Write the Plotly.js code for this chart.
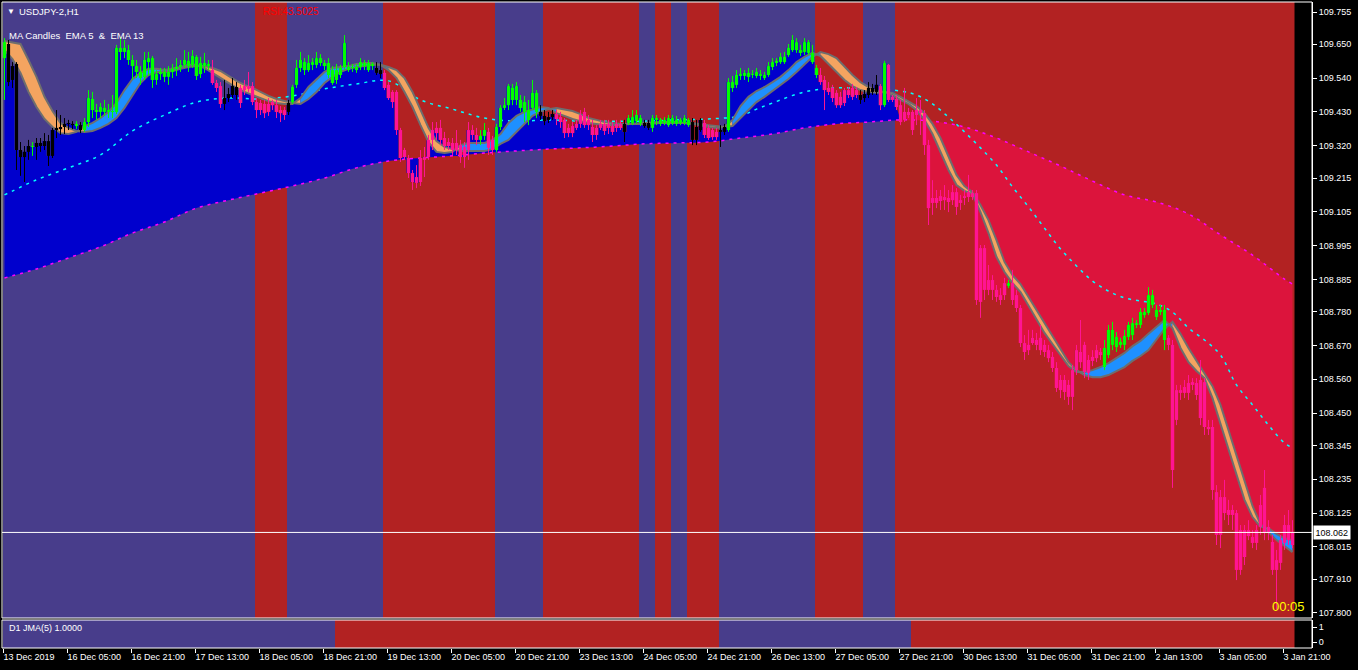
<!DOCTYPE html>
<html><head><meta charset="utf-8">
<script src="https://cdn.plot.ly/plotly-3.0.1.min.js"></script>
<style>html,body{margin:0;padding:0;background:#000;}#chart{width:1358px;height:670px;}</style>
</head><body><div id="chart"></div>
<script>
// ---------------- DATA (USDJPY-2, H1, 13 Dec 2019 13:00 .. 3 Jan 2020 23:00) ----------------
const opens = [109.605,109.651,109.534,109.586,109.306,109.283,109.300,109.319,109.316,109.329,
109.319,109.335,109.287,109.371,109.374,109.381,109.391,109.391,109.384,109.387,
109.371,109.397,109.472,109.436,109.430,109.443,109.430,109.433,109.430,109.638,
109.625,109.631,109.599,109.579,109.560,109.544,109.592,109.605,109.534,109.553,
109.560,109.544,109.560,109.570,109.576,109.583,109.596,109.583,109.609,109.553,
109.589,109.579,109.566,109.524,109.514,109.456,109.475,109.485,109.511,109.508,
109.501,109.514,109.514,109.462,109.459,109.456,109.456,109.462,109.452,109.436,
109.436,109.430,109.462,109.518,109.573,109.592,109.566,109.583,109.583,109.605,
109.589,109.589,109.566,109.534,109.550,109.576,109.576,109.573,109.566,109.576,
109.589,109.589,109.579,109.573,109.566,109.557,109.518,109.495,109.495,109.371,
109.306,109.280,109.231,109.218,109.202,109.274,109.283,109.339,109.378,109.378,
109.345,109.332,109.329,109.329,109.322,109.316,109.306,109.371,109.355,109.339,
109.352,109.365,109.339,109.306,109.381,109.443,109.452,109.508,109.469,109.469,
109.462,109.436,109.443,109.492,109.430,109.417,109.404,109.413,109.423,109.413,
109.404,109.378,109.384,109.378,109.391,109.430,109.404,109.381,109.378,109.378,
109.391,109.391,109.384,109.391,109.391,109.391,109.394,109.394,109.400,109.410,
109.394,109.394,109.378,109.404,109.391,109.394,109.387,109.394,109.391,109.394,
109.394,109.387,109.397,109.381,109.371,109.394,109.378,109.371,109.365,109.371,
109.365,109.371,109.527,109.518,109.547,109.547,109.557,109.550,109.547,109.547,
109.540,109.550,109.576,109.589,109.592,109.592,109.615,109.631,109.631,109.631,
109.625,109.622,109.622,109.573,109.550,109.534,109.508,109.508,109.492,109.479,
109.459,109.501,109.508,109.501,109.485,109.475,109.485,109.495,109.495,109.514,
109.452,109.583,109.479,109.472,109.452,109.430,109.430,109.430,109.436,109.436,
109.426,109.322,109.150,109.150,109.156,109.153,109.150,109.169,109.169,109.143,
109.150,109.169,109.166,109.166,108.987,108.987,108.883,108.883,108.851,108.834,
108.873,108.864,108.873,108.834,108.792,108.678,108.672,108.678,108.688,108.695,
108.672,108.655,108.633,108.597,108.558,108.558,108.542,108.503,108.590,108.649,
108.672,108.623,108.633,108.655,108.649,108.600,108.639,108.672,108.665,108.672,
108.672,108.698,108.704,108.737,108.737,108.769,108.776,108.802,108.763,108.779,
108.688,108.695,108.672,108.428,108.525,108.535,108.548,108.551,108.548,108.558,
108.551,108.405,108.405,108.193,108.177,108.177,108.135,108.135,108.125,108.070,
108.070,108.070,108.047,108.070,108.151,108.207,108.080,108.031,107.972,108.037,
108.086,108.086,108.021];

const highs = [109.670,109.664,109.592,109.592,109.332,109.319,109.339,109.332,109.345,109.345,
109.361,109.355,109.378,109.436,109.420,109.410,109.404,109.400,109.400,109.397,
109.410,109.501,109.495,109.456,109.459,109.469,109.456,109.485,109.648,109.674,
109.664,109.648,109.615,109.599,109.579,109.625,109.625,109.612,109.566,109.573,
109.573,109.579,109.586,109.605,109.599,109.631,109.625,109.631,109.615,109.609,
109.622,109.599,109.599,109.534,109.527,109.534,109.508,109.540,109.527,109.518,
109.534,109.560,109.527,109.475,109.469,109.469,109.475,109.469,109.469,109.449,
109.446,109.469,109.518,109.599,109.625,109.605,109.615,109.605,109.625,109.618,
109.599,109.605,109.579,109.586,109.583,109.680,109.592,109.586,109.586,109.605,
109.599,109.599,109.592,109.592,109.592,109.566,109.527,109.501,109.501,109.378,
109.313,109.290,109.241,109.257,109.306,109.316,109.355,109.397,109.397,109.404,
109.365,109.345,109.345,109.371,109.339,109.332,109.397,109.387,109.378,109.371,
109.394,109.378,109.352,109.391,109.452,109.475,109.521,109.521,109.527,109.485,
109.482,109.469,109.534,109.501,109.452,109.436,109.430,109.436,109.436,109.430,
109.410,109.391,109.397,109.404,109.436,109.443,109.420,109.404,109.387,109.404,
109.404,109.404,109.397,109.404,109.404,109.404,109.420,109.436,109.436,109.420,
109.404,109.404,109.420,109.420,109.410,109.413,109.420,109.420,109.417,109.410,
109.420,109.410,109.410,109.404,109.410,109.404,109.387,109.378,109.378,109.387,
109.391,109.540,109.547,109.566,109.573,109.566,109.573,109.566,109.573,109.566,
109.560,109.592,109.605,109.605,109.622,109.625,109.651,109.680,109.670,109.648,
109.670,109.664,109.648,109.583,109.573,109.547,109.527,109.518,109.501,109.495,
109.508,109.511,109.521,109.511,109.501,109.501,109.527,109.521,109.550,109.521,
109.596,109.586,109.485,109.485,109.469,109.508,109.443,109.436,109.475,109.469,
109.436,109.339,109.208,109.176,109.176,109.192,109.176,109.192,109.182,109.160,
109.176,109.225,109.176,109.176,108.997,108.997,108.932,108.899,108.867,108.857,
108.890,108.883,108.916,108.851,108.802,108.704,108.721,108.721,108.711,108.737,
108.688,108.672,108.649,108.616,108.574,108.574,108.558,108.607,108.672,108.753,
108.682,108.639,108.655,108.672,108.662,108.688,108.737,108.747,108.714,108.695,
108.721,108.747,108.760,108.753,108.792,108.792,108.860,108.851,108.802,108.802,
108.802,108.704,108.688,108.542,108.542,108.558,108.574,108.564,108.564,108.623,
108.564,108.428,108.428,108.216,108.200,108.233,108.168,108.151,108.135,108.086,
108.086,108.102,108.070,108.086,108.184,108.265,108.102,108.054,108.005,108.054,
108.119,108.135,108.102];

const lows = [109.469,109.514,109.508,109.241,109.222,109.202,109.274,109.287,109.274,109.300,
109.306,109.254,109.280,109.345,109.355,109.358,109.371,109.374,109.374,109.361,
109.365,109.381,109.410,109.404,109.410,109.417,109.410,109.410,109.423,109.599,
109.605,109.583,109.534,109.540,109.518,109.534,109.547,109.508,109.518,109.534,
109.527,109.518,109.540,109.547,109.560,109.573,109.560,109.573,109.534,109.540,
109.557,109.566,109.518,109.495,109.443,109.436,109.462,109.475,109.469,109.443,
109.485,109.495,109.452,109.410,109.420,109.410,109.417,109.436,109.410,109.397,
109.404,109.420,109.456,109.508,109.560,109.550,109.560,109.566,109.573,109.579,
109.566,109.540,109.518,109.521,109.540,109.566,109.560,109.560,109.557,109.566,
109.566,109.560,109.566,109.550,109.540,109.501,109.469,109.443,109.355,109.267,
109.274,109.215,109.176,109.182,109.189,109.218,109.274,109.306,109.339,109.322,
109.306,109.306,109.290,109.290,109.264,109.248,109.274,109.339,109.322,109.322,
109.339,109.290,109.290,109.300,109.371,109.436,109.436,109.452,109.452,109.430,
109.397,109.387,109.436,109.410,109.404,109.387,109.394,109.404,109.387,109.378,
109.345,109.348,109.348,109.371,109.378,109.378,109.371,109.332,109.339,109.371,
109.355,109.358,109.355,109.365,109.371,109.332,109.387,109.387,109.391,109.384,
109.378,109.371,109.365,109.387,109.384,109.387,109.381,109.387,109.384,109.387,
109.387,109.381,109.322,109.322,109.365,109.345,109.339,109.339,109.339,109.316,
109.355,109.365,109.495,109.508,109.534,109.534,109.527,109.540,109.540,109.534,
109.534,109.544,109.566,109.579,109.586,109.586,109.609,109.625,109.622,109.612,
109.615,109.615,109.586,109.540,109.518,109.436,109.485,109.462,109.443,109.443,
109.449,109.475,109.469,109.475,109.456,109.462,109.475,109.485,109.485,109.436,
109.446,109.462,109.462,109.436,109.387,109.397,109.410,109.355,109.387,109.355,
109.290,109.062,109.095,109.117,109.111,109.111,109.104,109.127,109.095,109.111,
109.127,109.137,109.143,108.802,108.760,108.818,108.834,108.818,108.812,108.802,
108.818,108.857,108.802,108.779,108.665,108.623,108.639,108.672,108.655,108.639,
108.633,108.616,108.584,108.519,108.499,108.493,108.477,108.460,108.574,108.597,
108.564,108.558,108.603,108.616,108.623,108.590,108.629,108.655,108.649,108.662,
108.655,108.688,108.688,108.727,108.727,108.760,108.769,108.792,108.753,108.769,
108.655,108.655,108.207,108.411,108.493,108.499,108.493,108.525,108.493,108.411,
108.379,108.379,108.168,108.021,108.011,108.102,108.086,108.070,107.907,107.924,
107.956,108.037,108.011,108.005,108.054,108.037,108.037,107.924,107.810,107.940,
108.005,108.021,108.011];

const closes = [109.657,109.527,109.579,109.306,109.283,109.300,109.319,109.316,109.329,109.319,
109.335,109.287,109.371,109.378,109.381,109.391,109.394,109.387,109.391,109.371,
109.397,109.475,109.436,109.430,109.446,109.430,109.436,109.430,109.638,109.625,
109.638,109.599,109.579,109.560,109.540,109.599,109.605,109.534,109.553,109.560,
109.544,109.560,109.570,109.576,109.583,109.599,109.579,109.612,109.547,109.589,
109.579,109.586,109.524,109.508,109.456,109.475,109.488,109.514,109.485,109.459,
109.514,109.505,109.462,109.436,109.436,109.426,109.430,109.452,109.430,109.426,
109.420,109.459,109.511,109.573,109.599,109.566,109.589,109.592,109.605,109.589,
109.579,109.550,109.524,109.566,109.573,109.654,109.566,109.576,109.576,109.592,
109.579,109.566,109.586,109.557,109.553,109.508,109.475,109.462,109.371,109.280,
109.283,109.231,109.202,109.199,109.280,109.283,109.339,109.371,109.361,109.339,
109.319,109.319,109.306,109.306,109.283,109.283,109.371,109.355,109.339,109.352,
109.371,109.313,109.306,109.381,109.443,109.452,109.514,109.469,109.514,109.443,
109.430,109.404,109.492,109.430,109.417,109.400,109.413,109.423,109.407,109.397,
109.361,109.361,109.361,109.391,109.420,109.387,109.387,109.355,109.355,109.391,
109.368,109.378,109.365,109.378,109.378,109.365,109.410,109.413,109.420,109.394,
109.384,109.378,109.410,109.410,109.404,109.404,109.410,109.410,109.404,109.404,
109.410,109.404,109.339,109.339,109.404,109.355,109.345,109.348,109.348,109.365,
109.381,109.527,109.508,109.550,109.553,109.557,109.544,109.553,109.560,109.553,
109.550,109.579,109.592,109.596,109.609,109.609,109.638,109.664,109.657,109.622,
109.657,109.657,109.592,109.550,109.527,109.501,109.495,109.475,109.452,109.452,
109.501,109.485,109.479,109.485,109.469,109.488,109.508,109.508,109.518,109.452,
109.589,109.469,109.469,109.446,109.397,109.404,109.420,109.371,109.420,109.426,
109.322,109.117,109.134,109.134,109.140,109.143,109.137,109.143,109.121,109.134,
109.156,109.153,109.153,108.818,108.812,108.851,108.851,108.851,108.828,108.818,
108.834,108.873,108.818,108.792,108.678,108.649,108.655,108.695,108.672,108.655,
108.649,108.629,108.597,108.532,108.525,108.519,108.503,108.590,108.655,108.616,
108.584,108.581,108.620,108.629,108.639,108.662,108.721,108.721,108.698,108.682,
108.701,108.737,108.743,108.743,108.779,108.779,108.834,108.834,108.786,108.786,
108.786,108.672,108.265,108.525,108.516,108.516,108.516,108.542,108.509,108.434,
108.405,108.398,108.200,108.054,108.054,108.125,108.119,108.119,107.940,107.940,
107.982,108.050,108.028,108.028,108.080,108.060,108.060,107.940,107.940,107.963,
108.028,108.037,108.062];

// MA Candles colour state per bar, run-length: g = up (lime), p = down (pink), k = neutral (black)
const colorRuns = [['g',1],['k',6],['g',1],['k',10],['g',1],['k',1],['g',32],['p',3],['k',4],['p',12],
['k',1],['g',21],['k',2],['p',24],['g',2],['p',2],['g',11],['k',4],['p',17],['k',1],['g',4],['k',2],
['g',10],['k',3],['p',4],['k',2],['g',23],['p',10],['k',5],['p',1],['g',1],['p',30],['g',1],['p',23],
['g',16],['p',32]];

// EMA 5 / EMA 13 ribbon (bar index, value)
const bandIdx = [0,2,4,6,8,10,12,14,16,18,20,22,24,26,28,30,32,34,36,38,40,42,44,46,48,50,52,54,56,58,
60,62,64,66,68,70,72,74,76,78,80,82,84,86,88,90,92,94,96,98,100,102,104,106,108,110,112,114,116,118,
120,122,124,126,128,130,132,134,136,138,140,142,144,146,148,150,152,154,156,160,164,168,172,176,178,180,
182,184,186,188,190,192,194,196,198,200,202,204,206,208,210,212,214,216,218,220,222,224,226,228,230,
232,234,236,238,240,242,244,246,248,250,252,254,256,258,260,262,264,266,268,270,272,274,276,278,280,
282,284,286,288,290,292,294,296,298,300,302,304,306,308,310,312,314,316,318,320,322];
const ema5 = [109.631,109.602,109.557,109.495,109.446,109.407,109.381,109.361,109.358,109.365,
109.384,109.394,109.410,109.430,109.459,109.501,109.537,109.557,109.570,109.570,
109.566,109.570,109.576,109.583,109.583,109.573,109.557,109.540,109.524,109.508,
109.495,109.485,109.475,109.465,109.459,109.456,109.456,109.475,109.511,109.537,
109.560,109.573,109.576,109.579,109.586,109.589,109.589,109.583,109.566,109.540,
109.495,109.446,109.387,109.332,109.300,109.296,109.300,109.322,109.329,109.329,
109.329,109.339,109.358,109.394,109.417,109.430,109.439,109.446,109.443,109.426,
109.417,109.407,109.400,109.394,109.391,109.387,109.387,109.387,
109.391,109.394,109.397,109.397,109.391,109.381,109.378,109.381,
109.404,109.449,109.479,109.498,109.511,109.527,109.544,109.566,109.592,109.609,
109.622,109.612,109.586,109.560,109.534,109.514,109.501,109.495,109.492,109.495,
109.485,109.469,109.456,109.436,109.404,109.358,109.300,109.241,109.192,109.173,
109.163,109.104,109.036,108.958,108.909,108.873,108.844,108.799,108.753,108.711,
108.675,108.639,108.603,108.584,108.584,108.590,108.600,108.613,108.629,108.646,
108.668,108.685,108.708,108.730,108.753,108.727,108.662,108.616,108.587,108.564,
108.499,108.415,108.330,108.246,108.168,108.112,108.080,108.076,108.057,108.043,108.037];
const ema13 = [109.661,109.657,109.651,109.599,109.544,109.479,109.433,109.394,109.378,109.368,
109.365,109.368,109.378,109.391,109.410,109.443,109.485,109.524,109.550,109.560,
109.560,109.563,109.570,109.576,109.579,109.579,109.573,109.563,109.547,109.531,
109.518,109.508,109.495,109.482,109.472,109.465,109.459,109.456,109.472,109.495,
109.524,109.544,109.560,109.570,109.576,109.579,109.583,109.583,109.576,109.566,
109.540,109.495,109.436,109.378,109.335,109.316,109.309,109.303,109.303,109.303,
109.303,109.309,109.326,109.339,109.365,109.394,109.417,109.430,109.439,109.443,
109.439,109.433,109.423,109.410,109.404,109.397,109.394,109.391,
109.391,109.391,109.394,109.394,109.394,109.387,109.384,109.381,
109.384,109.410,109.439,109.462,109.479,109.498,109.518,109.537,109.560,109.586,
109.609,109.625,109.618,109.605,109.576,109.550,109.527,109.511,109.498,109.495,
109.492,109.479,109.465,109.449,109.426,109.391,109.345,109.283,109.225,109.189,
109.169,109.127,109.078,109.013,108.942,108.899,108.870,108.828,108.786,108.747,
108.704,108.659,108.616,108.590,108.574,108.567,108.567,108.574,108.587,108.600,
108.620,108.636,108.655,108.688,108.724,108.747,108.708,108.662,108.620,108.581,
108.538,108.477,108.395,108.311,108.233,108.148,108.089,108.063,108.037,108.018,107.998];

// medium MA (cyan dotted) and slow MA (magenta dotted)
const maFastIdx = [0,8,16,24,32,40,48,56,64,72,80,88,96,104,112,120,128,136,144,152,160,168,176,184,188,
192,200,208,216,224,228,232,236,240,244,248,252,256,260,264,268,272,276,280,284,288,292,296,300,304,
308,312,316,320,322];
const maFast = [109.160,109.209,109.248,109.290,109.368,109.420,109.462,109.475,109.472,109.482,
109.505,109.521,109.531,109.469,109.439,109.410,109.400,109.404,109.400,109.400,109.400,109.404,
109.407,109.417,109.439,109.459,109.495,109.508,109.505,109.498,109.485,109.456,109.413,109.365,
109.313,109.257,109.186,109.121,109.052,108.984,108.929,108.880,108.847,108.825,108.815,108.805,
108.779,108.727,108.688,108.639,108.542,108.477,108.411,108.353,108.337];
const maSlowIdx = [0,8,16,24,32,40,48,56,64,72,80,88,96,104,112,120,128,136,144,152,160,168,176,184,
192,200,208,216,224,232,240,248,256,264,272,280,288,296,304,312,320,322];
const maSlow = [108.890,108.919,108.955,108.991,109.036,109.072,109.117,109.143,109.166,109.189,
109.215,109.248,109.270,109.280,109.287,109.296,109.303,109.309,109.313,109.319,109.326,109.329,
109.332,109.345,109.358,109.378,109.391,109.397,109.404,109.400,109.381,109.345,109.300,109.254,
109.205,109.160,109.137,109.098,109.030,108.964,108.886,108.870];

// H4 trend zones (first bar of each zone) and D1 JMA(5) zones
const h4Starts = [0,63,71,95,123,135,159,163,167,171,179,203,215,223];
const h4Trend  = ['up','down','up','down','up','down','up','down','up','down','up','down','up','down'];
const d1Starts = [0,83,179,227];
const d1Trend  = ['up','down','up','down'];

const tickLabels = ['13 Dec 2019','16 Dec 05:00','16 Dec 21:00','17 Dec 13:00','18 Dec 05:00','18 Dec 21:00',
'19 Dec 13:00','20 Dec 05:00','20 Dec 21:00','23 Dec 13:00','24 Dec 05:00','24 Dec 21:00','26 Dec 13:00',
'27 Dec 05:00','27 Dec 21:00','30 Dec 13:00','31 Dec 05:00','31 Dec 21:00','2 Jan 13:00','3 Jan 05:00','3 Jan 21:00'];
const barsPerLabel = 16;
const priceTicks = [109.755,109.650,109.540,109.430,109.320,109.215,109.105,108.995,108.885,108.780,
108.670,108.560,108.450,108.345,108.235,108.125,108.015,107.910,107.800];
const lastPrice = 108.062;
const rsiText = 'RSI:43.5025';
const jmaText = 'D1 JMA(5) 1.0000';
const timerText = '00:05';

// ---------------- STYLE ----------------
const PURPLE='#483D8B', RED='#B22222', FILL_UP='#0000CD', FILL_DN='#DC143C';
const BAND_UP='#1E90FF', BAND_DN='#F4A460', BAND_LINE='#6E6E6E';
const CANDLE={g:'#00FF00',p:'#FF1493',k:'#000000'};
const FONT='Liberation Sans, Arial, sans-serif';
const EDGE=0.375;   // bar body left edge offset (in bars)

const n = closes.length;
const barIdx = closes.map((_,i)=>i);
const barColor = [];
colorRuns.forEach(([c,len])=>{for(let j=0;j<len;j++) barColor.push(c);});

const base = {type:'scatter', mode:'lines', hoverinfo:'skip', showlegend:false};
const traces = [];

// histogram fill between slow MA and price
const split = h4Starts[h4Starts.length-1]+1;
const slowPairs = maSlowIdx.map((x,k)=>[x,maSlow[k]]);
const maL = slowPairs.filter(p=>p[0]<=split), maR = slowPairs.filter(p=>p[0]>=split);
traces.push({...base, x:maL.map(p=>p[0]), y:maL.map(p=>p[1]), line:{width:0,shape:'spline'}});
traces.push({...base, x:barIdx.slice(0,split), y:closes.slice(0,split), line:{width:0,shape:'hvh'}, fill:'tonexty', fillcolor:FILL_UP});
traces.push({...base, x:maR.map(p=>p[0]), y:maR.map(p=>p[1]), line:{width:0,shape:'spline'}});
traces.push({...base, x:barIdx.slice(split), y:closes.slice(split), line:{width:0,shape:'hvh'}, fill:'tonexty', fillcolor:FILL_DN});

// dotted MAs
traces.push({...base, x:maFastIdx, y:maFast, line:{color:'#00FFFF', width:1.5, dash:'3px,5px', shape:'spline'}});
traces.push({...base, x:maSlowIdx, y:maSlow, line:{color:'#FF00FF', width:1.5, dash:'3px,5px', shape:'spline'}});

// EMA ribbon fills by direction
const sgn=[]; 
for(let k=0;k<bandIdx.length;k++){const d=ema5[k]-ema13[k]; sgn.push(d>0?1:(d<0?-1:(k?sgn[k-1]:-1)));}
let s0=0;
for(let k=1;k<=bandIdx.length;k++){
  if(k===bandIdx.length || sgn[k]!==sgn[s0]){
    const e=Math.min(k,bandIdx.length-1);
    traces.push({...base, x:bandIdx.slice(s0,e+1), y:ema13.slice(s0,e+1), line:{width:0}});
    traces.push({...base, x:bandIdx.slice(s0,e+1), y:ema5.slice(s0,e+1), line:{width:0}, fill:'tonexty', fillcolor: sgn[s0]>0?BAND_UP:BAND_DN});
    s0=k;
  }
}
traces.push({...base, x:bandIdx, y:ema13, line:{color:BAND_LINE,width:2}});
traces.push({...base, x:bandIdx, y:ema5, line:{color:BAND_LINE,width:2}});

// candles
['k','g','p'].forEach(c=>{
  const wx=[],wy=[],bx=[],by=[];
  for(let i=0;i<n;i++){ if(barColor[i]!==c) continue;
    wx.push(i,i,null); wy.push(lows[i],highs[i],null);
    bx.push(i,i,null); by.push(opens[i],closes[i],null);
  }
  traces.push({...base, x:wx, y:wy, line:{color:CANDLE[c],width:1}});
  traces.push({...base, x:bx, y:by, line:{color:CANDLE[c],width:3.2}});
});

// indicator sub-window (D1 JMA zones are drawn as shapes on it)
traces.push({type:'scatter', mode:'lines', x:[], y:[], xaxis:'x', yaxis:'y2', hoverinfo:'skip', showlegend:false});

// ---------------- LAYOUT ----------------
const W=1358,Hh=670,ML=2,MR=46,MT=2,MB=22;
const PW=W-ML-MR, PH=Hh-MT-MB;
const mainBottom=30/PH, subTop=28/PH;
const X=px=>(px-ML)/PW, Y=py=>(Hh-MB-py)/PH;

function zoneShapes(starts,trend,yref){
  return starts.map((s,k)=>({type:'rect',xref:'x',yref:yref,x0:s-EDGE,
    x1:(k+1<starts.length?starts[k+1]-EDGE:n-1+0.5),y0:0,y1:1,
    fillcolor:trend[k]==='up'?PURPLE:RED,line:{width:0},layer:'below'}));
}
const shapes = [
  ...zoneShapes(h4Starts,h4Trend,'y domain'),
  ...zoneShapes(d1Starts,d1Trend,'y2 domain'),
  {type:'line',xref:'paper',yref:'y',x0:0,x1:1,y0:lastPrice,y1:lastPrice,line:{color:'#FFFFFF',width:1},layer:'above'},
  {type:'rect',xref:'paper',yref:'paper',x0:0,x1:1,y0:mainBottom,y1:1,line:{color:'#FFFFFF',width:1},layer:'above'},
  {type:'rect',xref:'paper',yref:'paper',x0:0,x1:1,y0:0,y1:subTop,line:{color:'#FFFFFF',width:1},layer:'above'}
];
function txt(text,px,py,opt){return Object.assign({xref:'paper',yref:'paper',x:X(px),y:Y(py),xanchor:'left',yanchor:'middle',
  showarrow:false,text:text,font:{family:FONT,size:9,color:'#FFFFFF'}},opt||{});}
const annotations = [
  txt('▼',5,11,{font:{family:FONT,size:8,color:'#FFFFFF'}}),
  txt('USDJPY-2,H1',17,11,{font:{family:FONT,size:9.5,color:'#FFFFFF'}}),
  txt(rsiText,261,11,{font:{family:FONT,size:10,color:'#FF0000'}}),
  txt('MA Candles\u00a0\u00a0EMA 5\u00a0\u00a0&amp;\u00a0\u00a0EMA 13',7,35,{font:{family:FONT,size:9.5,color:'#FFFFFF'}}),
  txt(jmaText,7,628),
  txt(timerText,1307,606,{xanchor:'right',font:{family:FONT,size:13,color:'#FFFF00'}}),
  {xref:'paper',yref:'y',x:1,y:lastPrice,xanchor:'left',yanchor:'middle',xshift:1,showarrow:false,
   text:lastPrice.toFixed(3),bgcolor:'#FFFFFF',borderpad:1.5,font:{family:FONT,size:9,color:'#000000'}}
];

const axisCommon = {showgrid:false,zeroline:false,fixedrange:true,ticks:'outside',ticklen:4,tickwidth:1,tickcolor:'#FFFFFF',
  tickfont:{family:FONT,size:9,color:'#FFFFFF'}};
const layout = {
  width:W,height:Hh,margin:{l:ML,r:MR,t:MT,b:MB,pad:0},autosize:false,
  paper_bgcolor:'#000000',plot_bgcolor:'#000000',showlegend:false,
  font:{family:FONT,size:9,color:'#FFFFFF'},
  xaxis:Object.assign({},axisCommon,{range:[-0.625,326.875],anchor:'y2',showline:false,
    tickvals:tickLabels.map((_,k)=>k*barsPerLabel-EDGE),ticktext:tickLabels,ticklabelposition:'outside right'}),
  yaxis:Object.assign({},axisCommon,{domain:[mainBottom,1],range:[107.78363,109.78753],side:'right',anchor:'x',
    tickvals:priceTicks,tickformat:'.3f',showline:true,linecolor:'#FFFFFF',linewidth:1}),
  yaxis2:Object.assign({},axisCommon,{domain:[0,subTop],range:[-0.4,1.467],side:'right',anchor:'x',
    tickvals:[0,1],ticktext:['0','1'],showline:true,linecolor:'#FFFFFF',linewidth:1}),
  shapes:shapes, annotations:annotations
};
Plotly.newPlot('chart',traces,layout,{staticPlot:true,displayModeBar:false});
</script></body></html>
